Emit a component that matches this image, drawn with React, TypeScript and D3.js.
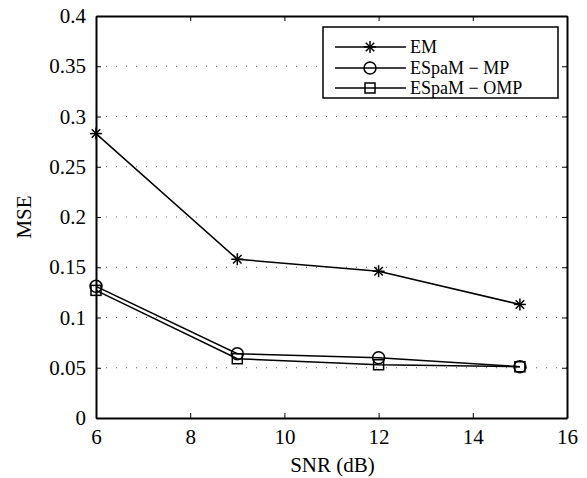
import React, { useEffect, useRef } from 'react';
import * as d3 from 'd3';

const snr = [6, 9, 12, 15];
const emValues = [0.283, 0.158, 0.146, 0.113];
const mpValues = [0.131, 0.064, 0.060, 0.051];
const ompValues = [0.127, 0.059, 0.053, 0.051];
const xTicks = [6, 8, 10, 12, 14, 16];
const yTicks = [0, 0.05, 0.1, 0.15, 0.2, 0.25, 0.3, 0.35, 0.4];
const seriesNames = ['EM', 'ESpaM \u2212 MP', 'ESpaM \u2212 OMP'];

function App() {
  const ref = useRef<SVGSVGElement>(null);

  useEffect(() => {
    if (!ref.current) return;
    const width = 587;
    const height = 478;
    const margin = { top: 16, right: 20, bottom: 60, left: 96 };
    const font = 'Liberation Serif';

    const svg = d3.select(ref.current);
    svg.selectAll('*').remove();

    const x = d3.scaleLinear().domain([6, 16]).range([margin.left, width - margin.right]);
    const y = d3.scaleLinear().domain([0, 0.4]).range([height - margin.bottom, margin.top]);

    // horizontal dotted grid
    svg.append('g')
      .selectAll('line')
      .data(yTicks.slice(1, -1))
      .join('line')
      .attr('x1', x(6)).attr('x2', x(16))
      .attr('y1', d => y(d)).attr('y2', d => y(d))
      .attr('stroke', '#555')
      .attr('stroke-width', 1)
      .attr('stroke-dasharray', '1,9');

    // axes
    const fmt = (d: d3.NumberValue) => String(+d);
    const bottom = svg.append('g')
      .attr('transform', `translate(0,${y(0)})`)
      .call(d3.axisBottom(x).tickValues(xTicks).tickSize(-5).tickSizeOuter(0).tickPadding(11).tickFormat(fmt));
    const top = svg.append('g')
      .attr('transform', `translate(0,${y(0.4)})`)
      .call(d3.axisTop(x).tickValues(xTicks).tickSize(-5).tickSizeOuter(0).tickFormat(() => ''));
    const left = svg.append('g')
      .attr('transform', `translate(${x(6)},0)`)
      .call(d3.axisLeft(y).tickValues(yTicks).tickSize(-5).tickSizeOuter(0).tickPadding(10).tickFormat(fmt));
    const right = svg.append('g')
      .attr('transform', `translate(${x(16)},0)`)
      .call(d3.axisRight(y).tickValues(yTicks).tickSize(-5).tickSizeOuter(0).tickFormat(() => ''));

    [bottom, top, left, right].forEach(g => {
      g.attr('font-family', font).attr('font-size', 21);
      g.select('.domain').attr('stroke', '#000').attr('stroke-width', 2);
      g.selectAll('.tick line').attr('stroke', '#000').attr('stroke-width', 1);
      g.selectAll('text').attr('fill', '#000');
    });

    // axis labels
    svg.append('text')
      .attr('x', (x(6) + x(16)) / 2 + 1)
      .attr('y', 472)
      .attr('text-anchor', 'middle')
      .attr('font-family', font)
      .attr('font-size', 21)
      .text('SNR (dB)');
    svg.append('text')
      .attr('transform', `translate(31,${(y(0) + y(0.4)) / 2}) rotate(-90)`)
      .attr('text-anchor', 'middle')
      .attr('font-family', font)
      .attr('font-size', 21)
      .text('MSE');

    const line = d3.line<number>().x((_, i) => x(snr[i])).y(d => y(d));
    const all = [emValues, mpValues, ompValues];

    all.forEach(vals => {
      svg.append('path')
        .datum(vals)
        .attr('d', line)
        .attr('fill', 'none')
        .attr('stroke', '#000')
        .attr('stroke-width', 1.5);
    });

    const star = (g: d3.Selection<SVGGElement, unknown, null, undefined>, cx: number, cy: number) => {
      const r = 6;
      [0, 45, 90, 135].forEach(a => {
        const rad = (a * Math.PI) / 180;
        g.append('line')
          .attr('x1', cx - r * Math.cos(rad)).attr('y1', cy - r * Math.sin(rad))
          .attr('x2', cx + r * Math.cos(rad)).attr('y2', cy + r * Math.sin(rad))
          .attr('stroke', '#000').attr('stroke-width', 1.5);
      });
    };
    const circle = (g: d3.Selection<SVGGElement, unknown, null, undefined>, cx: number, cy: number) => {
      g.append('circle').attr('cx', cx).attr('cy', cy).attr('r', 6)
        .attr('fill', 'none').attr('stroke', '#000').attr('stroke-width', 1.5);
    };
    const square = (g: d3.Selection<SVGGElement, unknown, null, undefined>, cx: number, cy: number) => {
      g.append('rect').attr('x', cx - 5).attr('y', cy - 5).attr('width', 10).attr('height', 10)
        .attr('fill', 'none').attr('stroke', '#000').attr('stroke-width', 1.5);
    };
    const markers = [star, circle, square];

    const mg = svg.append('g');
    all.forEach((vals, si) => {
      vals.forEach((v, i) => markers[si](mg, x(snr[i]), y(v)));
    });

    // legend
    const lg = svg.append('g');
    const lx = 323, ly = 27, lw = 235, lh = 71;
    lg.append('rect')
      .attr('x', lx).attr('y', ly).attr('width', lw).attr('height', lh)
      .attr('fill', '#fff').attr('stroke', '#000').attr('stroke-width', 1.5);
    const rows = [47, 68, 88];
    seriesNames.forEach((name, i) => {
      const ry = rows[i];
      lg.append('line').attr('x1', 335).attr('x2', 406).attr('y1', ry).attr('y2', ry)
        .attr('stroke', '#000').attr('stroke-width', 1.5);
      markers[i](lg, 370, ry);
      lg.append('text')
        .attr('x', 410).attr('y', ry + 6)
        .attr('font-family', font)
        .attr('font-size', 18)
        .text(name);
    });
  }, []);

  return (
    <svg ref={ref} width={587} height={478} style={{ position: 'absolute', left: 0, top: 0, background: '#fff' }} />
  );
}

export default App;
